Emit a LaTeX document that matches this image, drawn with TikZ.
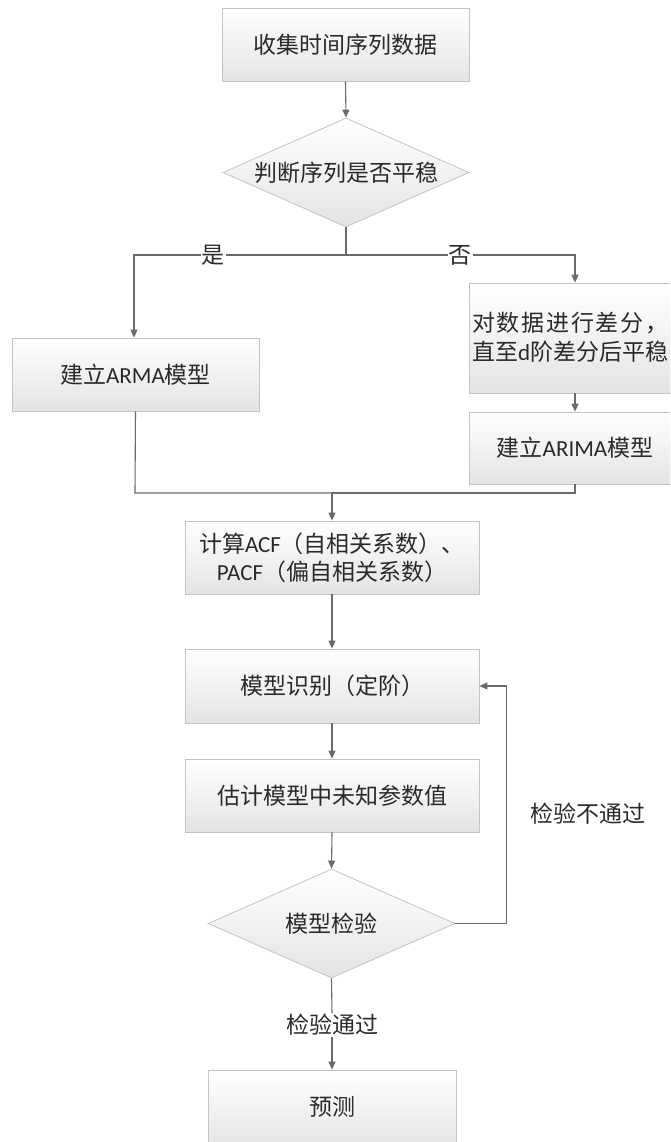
\documentclass[tikz,border=0pt]{standalone}
\usepackage{fontspec}
\setmainfont{Carlito}
\newfontfamily\cjk{Noto Sans CJK SC}
\usetikzlibrary{arrows.meta,shapes.geometric}
\definecolor{linegray}{HTML}{6A6A6A}
\definecolor{bordergray}{HTML}{C4C4C4}
\definecolor{shadebot}{HTML}{E4E4E4}
\definecolor{txt}{HTML}{2A2A2A}
\tikzset{
  box/.style={rectangle, draw=bordergray, line width=0.8pt, top color=white, bottom color=shadebot,
    inner sep=0pt, font=\cjk\fontsize{23}{28}\selectfont, text=txt, align=center},
  dia/.style={diamond, draw=bordergray, line width=0.8pt, top color=white, bottom color=shadebot,
    inner sep=0pt, aspect=2.27, font=\cjk\fontsize{23}{28}\selectfont, text=txt},
  conn/.style={draw=linegray, line width=1.1pt},
  arr/.style={conn, -{Triangle[length=8pt,width=7pt]}},
  lbl/.style={font=\cjk\fontsize{23}{28}\selectfont, text=txt, inner sep=1pt},
}
\newcommand{\lat}[1]{{\fontspec{Carlito}#1}}
\begin{document}
\begin{tikzpicture}[x=1pt,y=-1pt]
\clip (0,0) rectangle (670,1142);
\fill[white] (0,0) rectangle (670,1142);
% nodes
\node[box, minimum width=247pt, minimum height=73pt] (collect) at (345.5,44.5) {收集时间序列数据};
\node[dia, minimum width=246pt, minimum height=109pt] (stat) at (346,172.5) {判断序列是否平稳};
\node[box, minimum width=247pt, minimum height=73pt] (arma) at (135.5,374.5) {建立\lat{ARMA}模型};
\node[box, minimum width=212pt, minimum height=110pt] (diff) at (575,338) {};
\node[lbl, anchor=west, align=left, inner sep=0pt, font=\cjk\fontsize{23}{29}\selectfont] (difftxt) at (472,337) {\makebox[196pt][l]{对\hfill 数\hfill 据\hfill 进\hfill 行\hfill 差\hfill 分\hfill ，}\\直至\lat{d}阶差分后平稳};
\node[box, minimum width=212pt, minimum height=72pt] (arima) at (575,448) {建立\lat{ARIMA}模型};
\node[box, minimum width=294pt, minimum height=73pt] (acf) at (332,557.5) {计算\lat{ACF}（自相关系数）、\\\lat{PACF}（偏自相关系数）};
\node[box, minimum width=294pt, minimum height=74pt] (ident) at (332,686) {模型识别（定阶）};
\node[box, minimum width=294pt, minimum height=73pt] (est) at (332,795.5) {估计模型中未知参数值};
\node[dia, minimum width=247pt, minimum height=109pt] (check) at (331.5,923.5) {模型检验};
\node[box, minimum width=248pt, minimum height=80pt] (pred) at (332,1110) {};
\node[lbl] (predtxt) at (332,1107) {预测};
% connectors
\coordinate (split) at (346,255);
\coordinate (lcorner) at (134,255);
\coordinate (rcorner) at (575,255);
\draw[arr] (collect.south) -- (stat.north);
\draw[conn] (stat.south) -- (split);
\draw[arr] (split) -- (lcorner) -- (arma.north -| lcorner);
\draw[arr] (split) -- (rcorner) -- (diff.north);
\node[lbl, fill=white] (yes) at (213,255) {是};
\node[lbl, fill=white] (no) at (460,255) {否};
\draw[arr] (diff.south) -- (arima.north);
\coordinate (merge) at (332,493);
\draw[conn] (arma.south) -- (135,493) -- (merge);
\draw[conn] (arima.south) -- (575,493) -- (merge);
\draw[arr] (merge) -- (acf.north);
\draw[arr] (acf.south) -- (ident.north);
\draw[arr] (ident.south) -- (est.north);
\draw[arr] (est.south) -- (check.north);
\coordinate (fb) at (506.5,923.5);
\draw[arr] (check.east) -- (fb) -- (506.5,686) -- (ident.east);
\node[lbl] (fail) at (588,814) {检验不通过};
\node[lbl] (pass) at (332,1025) {检验通过};
\draw[conn] (check.south) -- (pass.north);
\draw[arr] (pass.south) -- (pred.north);
\end{tikzpicture}
\end{document}
